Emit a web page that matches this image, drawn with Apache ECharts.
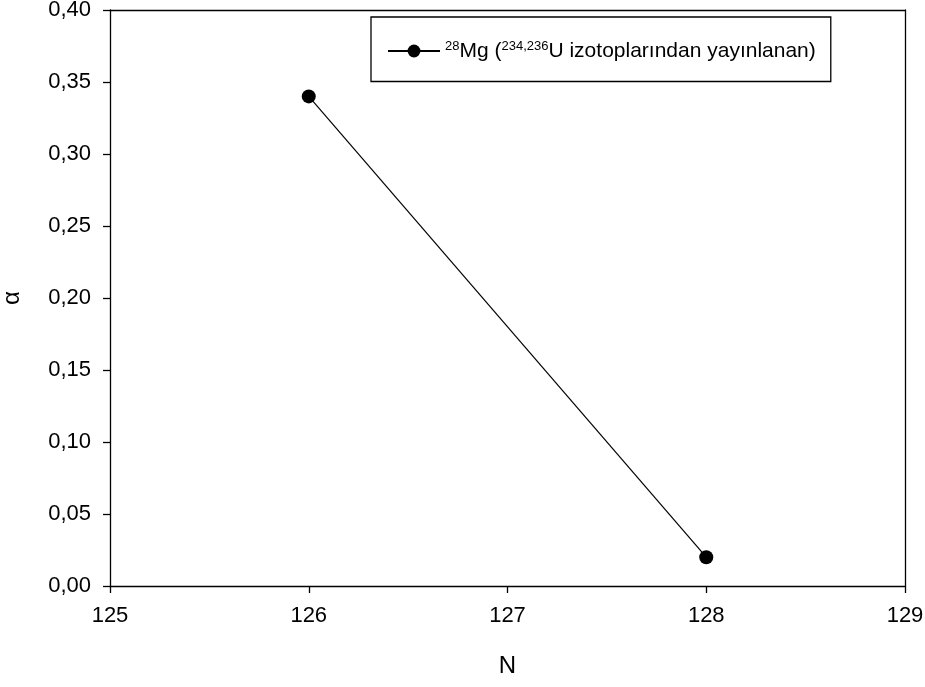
<!DOCTYPE html>
<html>
<head>
<meta charset="utf-8">
<script src="https://cdn.jsdelivr.net/npm/echarts@6/dist/echarts.min.js"></script>
<style>
html, body { margin: 0; padding: 0; background: #fff; }
#chart { width: 925px; height: 687px; }
</style>
</head>
<body>
<div id="chart"></div>
<script>
// data
var xValues = [126, 128];
var alphaValues = [0.34, 0.02];
var seriesName = 'Mg';

var chart = echarts.init(document.getElementById('chart'));

var axisLine = { show: true, onZero: false, lineStyle: { color: '#000', width: 1.3 } };

var option = {
    animation: false,
    grid: { left: 110, right: 20, top: 10, bottom: 101, show: false, outerBoundsMode: 'none' },
    legend: {
        left: 371, top: 17,
        padding: [22, 15, 20, 16],
        borderColor: '#000', borderWidth: 1.3,
        itemWidth: 52, itemHeight: 16, itemGap: 10,
        data: [seriesName],
        formatter: function () {
            return '{sup|28}{t|Mg (}{sup|234,236}{t|U izotoplarından yayınlanan)}';
        },
        textStyle: {
            color: '#000',
            rich: {
                t: { fontSize: 21, fontFamily: 'Liberation Sans', color: '#000', lineHeight: 24, verticalAlign: 'middle' },
                sup: { fontSize: 13, fontFamily: 'Liberation Sans', color: '#000', lineHeight: 14, verticalAlign: 'top', padding: [1, 0, 0, 0] }
            }
        }
    },
    xAxis: [{
        type: 'value', min: 125, max: 129, interval: 1,
        position: 'bottom',
        name: 'N', nameLocation: 'middle', nameGap: 68,
        nameTextStyle: { fontSize: 24, fontFamily: 'Liberation Sans', color: '#000' },
        axisLine: axisLine,
        axisTick: { show: true, length: 7, inside: false, lineStyle: { color: '#000', width: 1.3 } },
        axisLabel: { fontSize: 22, fontFamily: 'Liberation Sans', color: '#000', margin: 19 },
        splitLine: { show: false }
    }, {
        type: 'value', min: 125, max: 129, position: 'top',
        axisLine: axisLine, axisTick: { show: false }, axisLabel: { show: false }, splitLine: { show: false }
    }],
    yAxis: [{
        type: 'value', min: 0, max: 0.4, interval: 0.05,
        position: 'left',
        name: 'α', nameLocation: 'middle', nameGap: 86, nameRotate: 90,
        nameTextStyle: { fontSize: 24, fontFamily: 'Liberation Sans', color: '#000' },
        axisLine: axisLine,
        axisTick: { show: true, length: 7, inside: false, lineStyle: { color: '#000', width: 1.3 } },
        axisLabel: {
            fontSize: 22, fontFamily: 'Liberation Sans', color: '#000', margin: 19,
            formatter: function (v) { return v.toFixed(2).replace('.', ','); }
        },
        splitLine: { show: false }
    }, {
        type: 'value', min: 0, max: 0.4, position: 'right',
        axisLine: axisLine, axisTick: { show: false }, axisLabel: { show: false }, splitLine: { show: false }
    }],
    series: [{
        name: seriesName,
        type: 'line',
        data: xValues.map(function (x, i) { return [x, alphaValues[i]]; }),
        symbol: 'circle', symbolSize: 14,
        lineStyle: { color: '#000', width: 1.2 },
        itemStyle: { color: '#000' }
    }]
};

chart.setOption(option);
</script>
</body>
</html>
